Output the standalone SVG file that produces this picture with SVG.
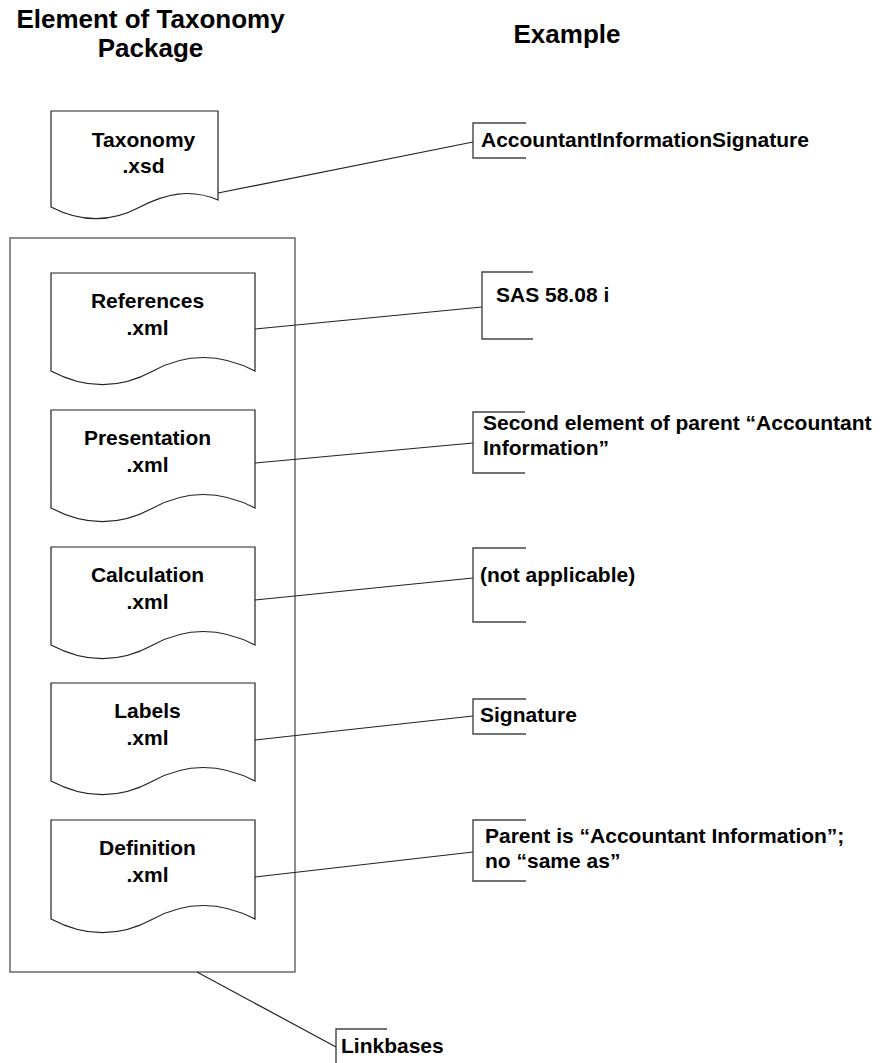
<svg xmlns="http://www.w3.org/2000/svg" width="884" height="1063" viewBox="0 0 884 1063">
  <style>
    text { font-family: "Liberation Sans", Arial, sans-serif; font-weight: bold; fill: #000; }
    .title { font-size: 26px; text-anchor: middle; }
    .lbl { font-size: 21px; text-anchor: middle; }
    .ex { font-size: 21px; }
    .doc { fill: #fff; stroke: #222; stroke-width: 1.2; }
    .frame { fill: none; stroke: #444; stroke-width: 1.2; }
    .conn { fill: none; stroke: #222; stroke-width: 1.2; }
    .brk { fill: none; stroke: #444; stroke-width: 1.4; }
  </style>

  <!-- column headings -->
  <g id="headings">
    <text class="title" x="150.5" y="28">Element of Taxonomy</text>
    <text class="title" x="150.5" y="57">Package</text>
    <text class="title" x="567" y="43">Example</text>
  </g>

  <!-- linkbase container -->
  <g id="linkbase-frame">
    <rect class="frame" x="10" y="238" width="285" height="734"/>
  </g>

  <!-- connectors: document to example brackets -->
  <g id="connectors">
    <line class="conn" x1="218" y1="193" x2="473" y2="142"/>
    <line class="conn" x1="255" y1="329" x2="482" y2="307"/>
    <line class="conn" x1="255" y1="463" x2="473" y2="443"/>
    <line class="conn" x1="255" y1="600" x2="473" y2="578"/>
    <line class="conn" x1="255" y1="740" x2="473" y2="716"/>
    <line class="conn" x1="255" y1="877" x2="473" y2="852"/>
    <line class="conn" x1="197" y1="972" x2="336" y2="1047"/>
  </g>

  <!-- documents -->
  <g id="taxonomy-xsd">
    <path class="doc" d="M51,111 H218 V200 C190,188 165,194 140,207 C110,223 80,222 51,207 Z"/>
    <text class="lbl" x="143.5" y="147">Taxonomy</text>
    <text class="lbl" x="143.5" y="173">.xsd</text>
  </g>

  <g id="references-xml">
    <path class="doc" d="M51,273 H255 V371 C220,353 186,353 153,371 C120,389 85,389 51,371 Z"/>
    <text class="lbl" x="147.5" y="308">References</text>
    <text class="lbl" x="147.5" y="335">.xml</text>
  </g>

  <g id="presentation-xml">
    <path class="doc" d="M51,410 H255 V508 C220,490 186,490 153,508 C120,526 85,526 51,508 Z"/>
    <text class="lbl" x="147.5" y="445">Presentation</text>
    <text class="lbl" x="147.5" y="472">.xml</text>
  </g>

  <g id="calculation-xml">
    <path class="doc" d="M51,547 H255 V645 C220,627 186,627 153,645 C120,663 85,663 51,645 Z"/>
    <text class="lbl" x="147.5" y="582">Calculation</text>
    <text class="lbl" x="147.5" y="609">.xml</text>
  </g>

  <g id="labels-xml">
    <path class="doc" d="M51,683 H255 V781 C220,763 186,763 153,781 C120,799 85,799 51,781 Z"/>
    <text class="lbl" x="147.5" y="718">Labels</text>
    <text class="lbl" x="147.5" y="745">.xml</text>
  </g>

  <g id="definition-xml">
    <path class="doc" d="M51,820 H255 V919 C220,901 186,901 153,919 C120,937 85,937 51,919 Z"/>
    <text class="lbl" x="147.5" y="855">Definition</text>
    <text class="lbl" x="147.5" y="882">.xml</text>
  </g>

  <!-- example annotations -->
  <g id="example-taxonomy">
    <path class="brk" d="M526,123 H473 V158 H526"/>
    <text class="ex" x="481" y="147">AccountantInformationSignature</text>
  </g>

  <g id="example-references">
    <path class="brk" d="M533,272 H482 V339 H533"/>
    <text class="ex" x="496" y="302">SAS 58.08 i</text>
  </g>

  <g id="example-presentation">
    <path class="brk" d="M525,412 H473 V473 H525"/>
    <text class="ex" x="483" y="430">Second element of parent “Accountant</text>
    <text class="ex" x="483" y="455">Information”</text>
  </g>

  <g id="example-calculation">
    <path class="brk" d="M526,548 H473 V622 H526"/>
    <text class="ex" x="480" y="582">(not applicable)</text>
  </g>

  <g id="example-labels">
    <path class="brk" d="M526,699 H473 V734 H526"/>
    <text class="ex" x="480" y="722">Signature</text>
  </g>

  <g id="example-definition">
    <path class="brk" d="M526,820 H473 V881 H526"/>
    <text class="ex" x="485" y="843">Parent is “Accountant Information”;</text>
    <text class="ex" x="485" y="868">no “same as”</text>
  </g>

  <g id="linkbases-label">
    <path class="brk" d="M387,1029 H336 V1063"/>
    <text class="ex" x="341" y="1053">Linkbases</text>
  </g>
</svg>
